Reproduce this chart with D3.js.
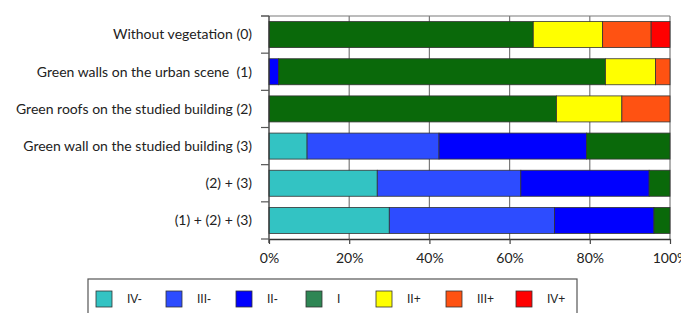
<!DOCTYPE html>
<html>
<head>
<meta charset="utf-8">
<script src="https://cdn.jsdelivr.net/npm/d3@7"></script>
<style>
  body { margin: 0; background: #fff; }
  svg { display: block; }
</style>
</head>
<body>
<svg id="chart" width="681" height="313"></svg>
<script>
// scenarios, top to bottom
var categories = [
    "Without vegetation (0)",
    "Green walls on the urban scene  (1)",
    "Green roofs on the studied building (2)",
    "Green wall on the studied building (3)",
    "(2) + (3)",
    "(1) + (2) + (3)"
];

var classes = ["IV-", "III-", "II-", "I", "II+", "III+", "IV+"];

// share of each comfort class per scenario (%)
var ivMinus  = [0,    0,    0,    9.5,  27.0, 30.0];
var iiiMinus = [0,    0,    0,    32.9, 35.8, 41.2];
var iiMinus  = [0,    2.4,  0,    36.8, 32.0, 24.8];
var neutral  = [65.9, 81.5, 71.7, 20.8, 5.2,  4.0];
var iiPlus   = [17.3, 12.5, 16.3, 0,    0,    0];
var iiiPlus  = [12.1, 3.6,  12.0, 0,    0,    0];
var ivPlus   = [4.7,  0,    0,    0,    0,    0];

var tickValues = [0, 0.2, 0.4, 0.6, 0.8, 1];

var barColors = ["#33c3c3", "#2d4cff", "#0000ff", "#0a690a", "#ffff00", "#ff5212", "#ff0000"];
var legendColors = ["#33c3c3", "#2d4cff", "#0000ff", "#2e8654", "#ffff00", "#ff5212", "#ff0000"];

var series = [ivMinus, iiiMinus, iiMinus, neutral, iiPlus, iiiPlus, ivPlus];
var rows = categories.map(function(c, i) {
    var r = { cat: c };
    classes.forEach(function(k, j) { r[k] = series[j][i]; });
    return r;
});

var svg = d3.select("#chart");
var margin = { left: 269, right: 10, top: 16, bottom: 74 };

var x = d3.scaleLinear().domain([0, 100]).range([margin.left, 670]);
var y = d3.scaleBand().domain(categories).range([margin.top, 239])
    .paddingInner(0.3).paddingOuter(0.15);

var stack = d3.stack().keys(classes)(rows);

// vertical grid lines
svg.append("g").selectAll("line")
    .data(tickValues.slice(1))
    .enter().append("line")
    .attr("x1", d => x(d * 100))
    .attr("x2", d => x(d * 100))
    .attr("y1", margin.top)
    .attr("y2", 239)
    .attr("stroke", "#7a7a7a")
    .attr("stroke-width", 1.2);

// top border
svg.append("line")
    .attr("x1", 261).attr("x2", x(100))
    .attr("y1", margin.top).attr("y2", margin.top)
    .attr("stroke", "#7a7a7a").attr("stroke-width", 1.2);

// bars
svg.append("g").selectAll("g")
    .data(stack)
    .enter().append("g")
    .attr("fill", (d, i) => barColors[i])
    .selectAll("rect")
    .data(d => d.filter(s => s[1] - s[0] > 0))
    .enter().append("rect")
    .attr("x", d => x(d[0]))
    .attr("width", d => x(d[1]) - x(d[0]))
    .attr("y", d => y(d.data.cat))
    .attr("height", y.bandwidth())
    .attr("stroke", "#333")
    .attr("stroke-width", 0.8);

// left axis with ticks at band boundaries
var bounds = categories.map(c => y(c) - y.step() * y.paddingInner() / 2).concat([239]);
bounds[0] = margin.top;
svg.append("line")
    .attr("x1", x(0)).attr("x2", x(0))
    .attr("y1", margin.top).attr("y2", 243)
    .attr("stroke", "#333").attr("stroke-width", 1.3);
svg.append("g").selectAll("line")
    .data(bounds)
    .enter().append("line")
    .attr("x1", 261).attr("x2", x(0))
    .attr("y1", d => d).attr("y2", d => d)
    .attr("stroke", "#555").attr("stroke-width", 1.2);

// bottom axis
var xAxis = d3.axisBottom(x)
    .tickValues(tickValues.map(d => d * 100))
    .tickFormat(d => d + "%")
    .tickSizeInner(5).tickSizeOuter(0);
var gx = svg.append("g").attr("transform", "translate(0,239)").call(xAxis);
gx.select(".domain").attr("stroke", "#333").attr("stroke-width", 1.3);
gx.selectAll(".tick line").attr("stroke", "#444").attr("stroke-width", 1.2);
gx.selectAll(".tick text")
    .attr("y", 14)
    .attr("fill", "#222")
    .style("font-family", "Lato, sans-serif")
    .style("font-size", "14px");

// category labels
svg.append("g").selectAll("text")
    .data(categories)
    .enter().append("text")
    .attr("x", 252)
    .attr("y", d => y(d) + y.bandwidth() / 2)
    .attr("dy", "0.35em")
    .attr("text-anchor", "end")
    .style("white-space", "pre")
    .attr("xml:space", "preserve")
    .style("font-family", "Lato, sans-serif")
    .style("font-size", "14px")
    .attr("fill", "#222")
    .text(d => d);

// legend
var legend = svg.append("g");
legend.append("rect")
    .attr("x", 88).attr("y", 279)
    .attr("width", 489).attr("height", 60)
    .attr("fill", "#fff")
    .attr("stroke", "#555").attr("stroke-width", 1.2);

var items = legend.selectAll("g.item")
    .data(classes)
    .enter().append("g")
    .attr("class", "item")
    .attr("transform", (d, i) => "translate(" + (96 + i * 70) + ",291)");
items.append("rect")
    .attr("width", 16).attr("height", 16)
    .attr("fill", (d, i) => legendColors[i])
    .attr("stroke", "#333").attr("stroke-width", 0.8);
items.append("text")
    .attr("x", 31).attr("y", 8)
    .attr("dy", "0.35em")
    .style("font-family", "Liberation Sans, Arial, sans-serif")
    .style("font-size", "12px")
    .attr("fill", "#222")
    .text(d => d);
</script>
</body>
</html>
